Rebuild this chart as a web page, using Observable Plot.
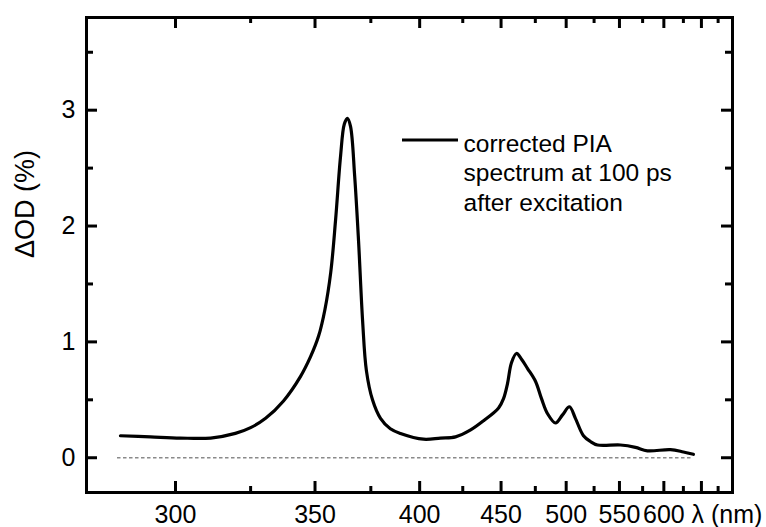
<!DOCTYPE html>
<html><head><meta charset="utf-8">
<script src="https://cdn.jsdelivr.net/npm/d3@7"></script>
<script src="https://cdn.jsdelivr.net/npm/@observablehq/plot@0.6"></script>
<style>body{margin:0;background:#fff;font-family:"Liberation Sans",Arial,sans-serif}</style>
</head><body><div id="chart"></div>
<script>
// Spectrum (wavelength in nm, ΔOD in %)
const wavelength = [284.0,292.5,301.5,311.2,319.6,325.0,330.5,337.3,344.0,348.1,351.5,354.2,356.7,358.8,361.0,362.7,364.1,365.5,367.4,369.2,371.1,372.9,375.8,379.7,384.6,389.8,402.1,411.7,420.6,429.9,438.3,448.3,451.7,454.5,457.3,460.9,464.6,469.1,475.1,479.8,484.6,491.1,496.9,502.8,508.0,515.2,521.6,528.2,551.0,567.0,580.4,608.2,625.0,638.6];
const deltaOD    = [0.19,0.18,0.17,0.17,0.21,0.26,0.34,0.49,0.70,0.87,1.05,1.28,1.60,2.05,2.60,2.88,2.93,2.86,2.43,1.87,1.18,0.75,0.50,0.34,0.25,0.21,0.16,0.17,0.18,0.24,0.32,0.43,0.51,0.64,0.82,0.90,0.85,0.77,0.66,0.51,0.38,0.30,0.37,0.44,0.34,0.19,0.14,0.11,0.11,0.09,0.06,0.07,0.05,0.03];

const xMajorTicks = [300,350,400,450,500,550,600,650];
const xTickLabels = ["300","350","400","450","500","550","600",""];
const xMinorTicks = [325,375,425,475,525,575,625,675];
const yMajorTicks = [0,1,2,3];
const yTickLabels = ["0","1","2","3"];
const yMinorTicks = [0.5,1.5,2.5,3.5];
const legendLabel = "corrected PIA\nspectrum at 100 ps\nafter excitation";
const xAxisTitle = "λ (nm)";
const yAxisTitle = "ΔOD (%)";

const W = 766, H = 527, mL = 86, mR = 34, mT = 17, mB = 35;
const xDomain = [3.637, 1.4324];   // 1000/λ, reversed so λ grows to the right
const yDomain = [-0.3, 3.8];
const inv = l => 1000 / l;
const data = wavelength.map((l, i) => ({x: inv(l), y: deltaOD[i]}));
const xLabel = d => { const k = xMajorTicks.indexOf(Math.round(1000 / d)); return k >= 0 ? xTickLabels[k] : ""; };
const yLabel = d => { const k = yMajorTicks.indexOf(d); return k >= 0 ? yTickLabels[k] : ""; };

// tick lengths (px) expressed in data units of each scale
const perPxY = (yDomain[1] - yDomain[0]) / (H - mT - mB);
const perPxX = (xDomain[0] - xDomain[1]) / (W - mL - mR);
const tick = {stroke: "black", strokeWidth: 3};
const xTicks = (ticks, len) => [
  Plot.ruleX(ticks, {x: inv, y1: yDomain[0], y2: yDomain[0] + len * perPxY, ...tick}),
  Plot.ruleX(ticks, {x: inv, y1: yDomain[1], y2: yDomain[1] - len * perPxY, ...tick})
];
const yTicks = (ticks, len) => [
  Plot.ruleY(ticks, {y: d => d, x1: xDomain[0], x2: xDomain[0] - len * perPxX, ...tick}),
  Plot.ruleY(ticks, {y: d => d, x1: xDomain[1], x2: xDomain[1] + len * perPxX, ...tick})
];

const legendLine = (index, scales, values, dims) => {
  const g = d3.create("svg:g");
  g.append("line").attr("x1", dims.marginLeft + 316).attr("x2", dims.marginLeft + 372)
    .attr("y1", dims.marginTop + 123).attr("y2", dims.marginTop + 123)
    .attr("stroke", "black").attr("stroke-width", 3.2);
  return g.node();
};

const chart = Plot.plot({
  width: W, height: H,
  marginLeft: mL, marginRight: mR, marginTop: mT, marginBottom: mB,
  style: {fontFamily: '"Liberation Sans", Arial, sans-serif', fontSize: "25px", color: "black", background: "white", overflow: "visible"},
  x: {type: "linear", domain: xDomain, axis: null},
  y: {domain: yDomain, axis: null},
  marks: [
    Plot.ruleY([0], {x1: inv(wavelength[0]) + 0.01, x2: inv(wavelength[wavelength.length - 1]), stroke: "#8a8a8a", strokeWidth: 1.5, strokeDasharray: "3.5,2.5"}),
    Plot.line(data, {x: "x", y: "y", curve: "catmull-rom", stroke: "black", strokeWidth: 3.2}),
    ...xTicks(xMajorTicks, 11), ...xTicks(xMinorTicks, 6),
    ...yTicks(yMajorTicks, 11), ...yTicks(yMinorTicks, 7),
    Plot.axisX({anchor: "bottom", ticks: xMajorTicks.map(inv), tickSize: 0, tickPadding: 13, tickFormat: xLabel, fontSize: 25, label: null}),
    Plot.axisY({anchor: "left", ticks: yMajorTicks, tickSize: 0, tickPadding: 11, tickFormat: yLabel, fontSize: 25, label: null}),
    Plot.frame({stroke: "black", strokeWidth: 3}),
    Plot.text([xAxisTitle], {frameAnchor: "bottom-left", dx: 691 - mL, dy: 13, textAnchor: "start", lineAnchor: "top", fontSize: 25}),
    Plot.text([yAxisTitle], {frameAnchor: "left", dx: 25 - mL, dy: 3, rotate: -90, fontSize: 27}),
    legendLine,
    Plot.text([legendLabel], {frameAnchor: "top-left", dx: 463 - mL, dy: 114, textAnchor: "start", lineAnchor: "top", lineHeight: 1.19, fontSize: 24.5})
  ]
});
document.getElementById("chart").appendChild(chart);
</script>
</body></html>
